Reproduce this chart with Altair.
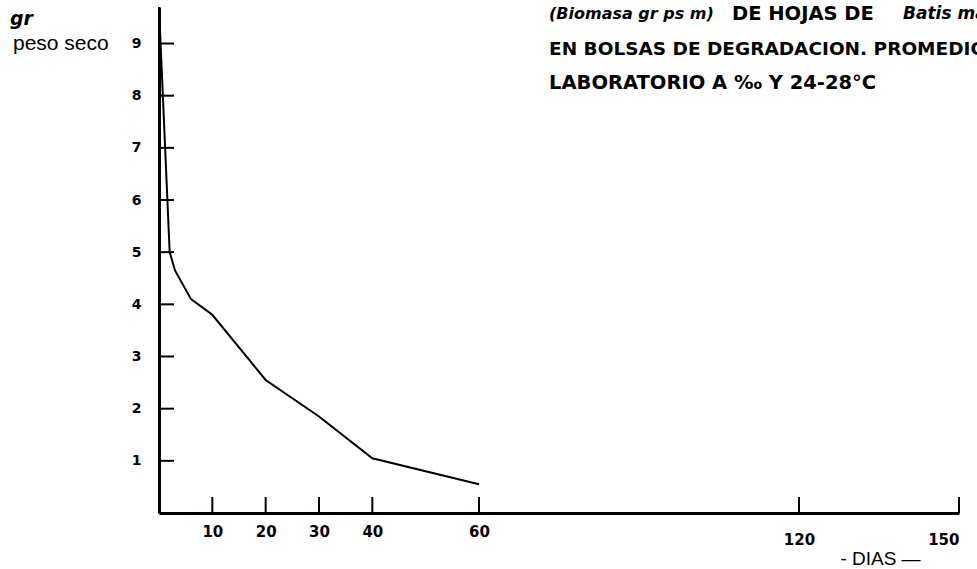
import altair as alt
import pandas as pd

# Dry weight of Batis leaves remaining in decomposition bags over time
dias = [0, 2, 3, 6, 10, 20, 30, 40, 60]
peso = [9.7, 5.0, 4.65, 4.1, 3.8, 2.55, 1.85, 1.05, 0.55]

x_ticks = [10, 20, 30, 40, 60, 120, 150]
y_ticks = [1, 2, 3, 4, 5, 6, 7, 8, 9]

titulo_1a = ["(Biomasa gr ps m)"]
titulo_1b = ["DE HOJAS DE"]
titulo_1c = ["Batis maritima"]
titulo_2 = ["EN BOLSAS DE DEGRADACION. PROMEDIO"]
titulo_3 = ["LABORATORIO A \u2030 Y 24-28\u00b0C"]

W, H = 800, 506
FONT = "DejaVu Sans"

x_scale = alt.Scale(domain=[0, 150], nice=False, zero=True)
y_scale = alt.Scale(domain=[0, 9.7], nice=False, zero=True)

x_axis = alt.Axis(
    values=x_ticks,
    ticks=False,
    grid=False,
    domainWidth=3,
    domainColor="black",
    labelFont=FONT,
    labelFontSize=15,
    labelFontWeight="bold",
    labelColor="black",
    labelPadding={"condition": {"test": "datum.value >= 120", "value": 19}, "value": 11},
    title="- DIAS \u2014",
    titleFont="Liberation Sans",
    titleFontSize=19,
    titleFontWeight="normal",
    titleColor="black",
    titleX=721,
    titleY=45,
    titleAlign="center",
    titleBaseline="middle",
)

y_axis = alt.Axis(
    values=y_ticks,
    ticks=False,
    grid=False,
    domainWidth=3,
    domainColor="black",
    labelFont=FONT,
    labelFontSize=14,
    labelFontWeight="bold",
    labelColor="black",
    labelPadding=18,
    title=None,
)

df = pd.DataFrame({"dias": dias, "peso": peso})

line = alt.Chart(df).mark_line(color="black", strokeWidth=2).encode(
    x=alt.X("dias:Q", scale=x_scale, axis=x_axis),
    y=alt.Y("peso:Q", scale=y_scale, axis=y_axis),
)

# Inward tick marks on both axes
y_tick_marks = alt.Chart(pd.DataFrame({"v": y_ticks})).mark_rule(
    color="black", strokeWidth=2
).encode(
    y=alt.Y("v:Q", scale=y_scale, axis=y_axis),
    x=alt.value(0),
    x2=alt.value(15),
)

x_tick_marks = alt.Chart(pd.DataFrame({"v": x_ticks})).mark_rule(
    color="black", strokeWidth=2
).encode(
    x=alt.X("v:Q", scale=x_scale, axis=x_axis),
    y=alt.value(H),
    y2=alt.value(H - 16),
)


def label(texts, x, y, size, style="normal", weight="normal", font=FONT, align="left"):
    return alt.Chart(pd.DataFrame({"t": texts})).mark_text(
        align=align,
        baseline="middle",
        font=font,
        fontSize=size,
        fontStyle=style,
        fontWeight=weight,
        color="black",
    ).encode(text="t:N", x=alt.value(x), y=alt.value(y))


gr = label(["gr"], -149, 12, 19, style="italic", weight="bold")
peso_seco = label(["peso seco"], -146, 37, 21, font="Liberation Sans")
t1a = label(titulo_1a, 390, 7, 16, style="italic", weight="bold")
t1b = label(titulo_1b, 573, 7, 19.5, weight="bold")
t1c = label(titulo_1c, 744, 7, 17, style="italic", weight="bold")
t2 = label(titulo_2, 390, 42, 18.5, weight="bold")
t3 = label(titulo_3, 390, 76, 19.5, weight="bold")

chart = alt.layer(
    line, y_tick_marks, x_tick_marks, gr, peso_seco, t1a, t1b, t1c, t2, t3
).properties(
    width=W,
    height=H,
    autosize=alt.AutoSizeParams(type="none"),
    padding={"left": 159, "top": 7, "right": 18, "bottom": 56},
    background="white",
).configure_view(stroke=None)

chart.save("out.html", embed_options={"renderer": "svg", "actions": False})
